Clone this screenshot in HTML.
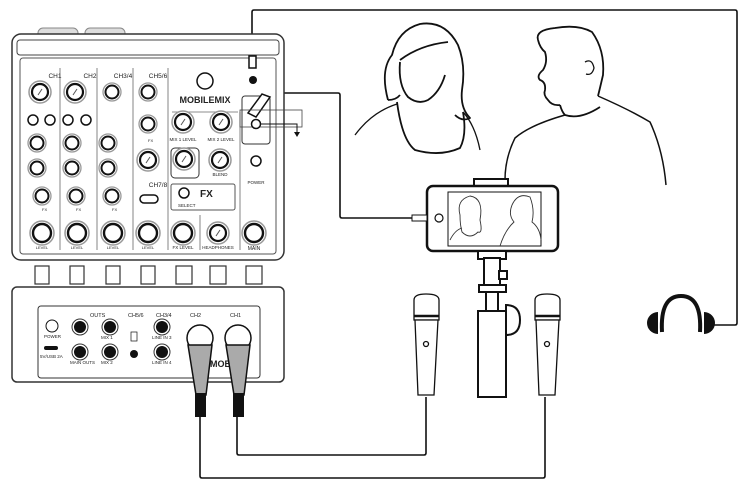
<!DOCTYPE html>
<html><head><meta charset="utf-8"><style>
html,body{margin:0;padding:0;background:#fff;width:750px;height:487px;overflow:hidden}
svg{display:block}
text{font-family:"Liberation Sans",sans-serif;fill:#222}
</style></head><body>
<svg width="750" height="487" viewBox="0 0 750 487" xmlns="http://www.w3.org/2000/svg">
<defs>
<g id="k"><circle r="11" fill="#fff" stroke="#999" stroke-width="1.5"/><circle r="8" fill="#fff" stroke="#111" stroke-width="2.2"/><line x1="-2" y1="3" x2="2" y2="-3" stroke="#555" stroke-width="1"/></g>
<g id="ks"><circle r="9" fill="#fff" stroke="#999" stroke-width="1.3"/><circle r="6.5" fill="#fff" stroke="#111" stroke-width="2"/></g>
<g id="kb"><circle r="12" fill="#fff" stroke="#999" stroke-width="1.5"/><circle r="9" fill="#fff" stroke="#111" stroke-width="2.4"/></g>
<g id="j"><circle r="8" fill="#fff" stroke="#333" stroke-width="1"/><circle r="6" fill="#111"/></g>
</defs>
<g fill="none" stroke="#111" stroke-width="1.6">
<path d="M252 62 V12 Q252 10 254 10 H735 Q737 10 737 12 V323 Q737 325 735 325 H712"/>
<path d="M275 93 H338 Q340 93 340 95 V216 Q340 218 342 218 H414"/>
<path d="M200 415 V476 Q200 478 202 478 H543 Q545 478 545 476 V397"/>
<path d="M237 415 V453 Q237 455 239 455 H424 Q426 455 426 453 V397"/>
</g>
<!-- mixer top -->
<rect x="38" y="28" width="40" height="10" rx="5" fill="#ddd" stroke="#888"/>
<rect x="85" y="28" width="40" height="10" rx="5" fill="#ddd" stroke="#888"/>
<rect x="12" y="34" width="272" height="226" rx="9" fill="#fff" stroke="#333" stroke-width="1.5"/>
<rect x="17" y="40" width="262" height="15" rx="3" fill="#fff" stroke="#444"/>
<rect x="20" y="58" width="256" height="196" rx="3" fill="#fff" stroke="#555"/>
<g stroke="#666" stroke-width="0.8">
<line x1="60" y1="68" x2="60" y2="250"/><line x1="97" y1="68" x2="97" y2="250"/><line x1="133" y1="68" x2="133" y2="250"/><line x1="168" y1="68" x2="168" y2="250"/>
<line x1="172" y1="112" x2="238" y2="112"/><line x1="240" y1="112" x2="240" y2="250"/><line x1="200" y1="215" x2="200" y2="250"/>
</g>
<g font-size="6.5" text-anchor="middle">
<text x="55" y="78">CH1</text><text x="90" y="78">CH2</text><text x="123" y="78">CH3/4</text><text x="158" y="78">CH5/6</text><text x="158" y="187">CH7/8</text>
</g>
<g font-size="4">
<use href="#k" x="40" y="92"/><use href="#k" x="75" y="92"/><use href="#ks" x="112" y="92"/><use href="#ks" x="148" y="92"/>
<circle cx="33" cy="120" r="5" fill="#fff" stroke="#111" stroke-width="1.5"/><circle cx="50" cy="120" r="5" fill="#fff" stroke="#111" stroke-width="1.5"/>
<circle cx="68" cy="120" r="5" fill="#fff" stroke="#111" stroke-width="1.5"/><circle cx="86" cy="120" r="5" fill="#fff" stroke="#111" stroke-width="1.5"/>
<use href="#ks" x="148" y="124"/>
<use href="#ks" x="37" y="143"/><use href="#ks" x="72" y="143"/><use href="#ks" x="108" y="143"/>
<use href="#ks" x="37" y="168"/><use href="#ks" x="72" y="168"/><use href="#ks" x="108" y="168"/>
<use href="#k" x="148" y="160"/>
<use href="#ks" x="42" y="196"/><use href="#ks" x="76" y="196"/><use href="#ks" x="112" y="196"/>
<rect x="140" y="195" width="18" height="8" rx="4" fill="#fff" stroke="#111" stroke-width="1.5"/>
<use href="#kb" x="42" y="233"/><use href="#kb" x="77" y="233"/><use href="#kb" x="113" y="233"/><use href="#kb" x="148" y="233"/>
<text x="42" y="249" text-anchor="middle">LEVEL</text><text x="77" y="249" text-anchor="middle">LEVEL</text><text x="113" y="249" text-anchor="middle">LEVEL</text><text x="148" y="249" text-anchor="middle">LEVEL</text>
<text x="42" y="211">FX</text><text x="76" y="211">FX</text><text x="112" y="211">FX</text><text x="148" y="142">FX</text>
</g>
<circle cx="205" cy="81" r="8" fill="#fff" stroke="#111" stroke-width="1.5"/>
<text x="205" y="103" font-size="9" font-weight="bold" text-anchor="middle">MOBILEMIX</text>
<use href="#k" x="183" y="122"/><use href="#k" x="221" y="122"/>
<text x="183" y="141" font-size="4.5" text-anchor="middle">MIX 1 LEVEL</text><text x="221" y="141" font-size="4.5" text-anchor="middle">MIX 2 LEVEL</text>
<rect x="171" y="148" width="28" height="30" rx="4" fill="#fff" stroke="#333"/>
<use href="#k" x="184" y="159"/><use href="#k" x="220" y="160"/>
<text x="220" y="176" font-size="4.5" text-anchor="middle">BLEND</text>
<rect x="171" y="184" width="64" height="26" rx="2" fill="#fff" stroke="#555"/>
<circle cx="184" cy="193" r="5" fill="#fff" stroke="#111" stroke-width="1.5"/>
<text x="200" y="197" font-size="10" font-weight="bold">FX</text>
<text x="178" y="207" font-size="4.5">SELECT</text>
<use href="#kb" x="183" y="233"/><use href="#k" x="218" y="233"/><use href="#kb" x="254" y="233"/>
<text x="183" y="249" font-size="4.5" text-anchor="middle">FX LEVEL</text><text x="218" y="249" font-size="4.5" text-anchor="middle">HEADPHONES</text><text x="254" y="250" font-size="5" text-anchor="middle">MAIN</text>
<circle cx="256" cy="161" r="5" fill="#fff" stroke="#111" stroke-width="1.5"/>
<text x="256" y="184" font-size="4.5" text-anchor="middle">POWER</text>
<rect x="249" y="56" width="7" height="12" fill="#fff" stroke="#111" stroke-width="1.5"/>
<circle cx="253" cy="80" r="4" fill="#111"/>
<rect x="242" y="96" width="28" height="48" rx="3" fill="#fff" stroke="#333"/>
<path d="M248 113 L262 94 L270 97 L256 117 Z" fill="#fff" stroke="#111" stroke-width="1.5"/>
<rect x="240" y="110" width="62" height="17" fill="none" stroke="#444" stroke-width="0.8"/>
<circle cx="256" cy="124" r="4.5" fill="#fff" stroke="#111" stroke-width="1.5"/>
<path d="M260 124 H297 V133" fill="none" stroke="#111" stroke-width="1"/><path d="M294 132 L297 137 L300 132 Z" fill="#111"/>
<g fill="#fff" stroke="#333" stroke-width="1.2">
<rect x="35" y="266" width="14" height="18"/><rect x="70" y="266" width="14" height="18"/><rect x="106" y="266" width="14" height="18"/><rect x="141" y="266" width="14" height="18"/><rect x="176" y="266" width="16" height="18"/><rect x="210" y="266" width="16" height="18"/><rect x="246" y="266" width="16" height="18"/>
</g>
<!-- back panel -->
<rect x="12" y="287" width="272" height="95" rx="5" fill="#fff" stroke="#333" stroke-width="1.5"/>
<rect x="38" y="306" width="222" height="72" rx="3" fill="#fff" stroke="#333"/>
<g font-size="4.5">
<circle cx="52" cy="326" r="6" fill="#fff" stroke="#111"/><text x="44" y="338">POWER</text>
<rect x="44" y="346" width="14" height="4" rx="2" fill="#111"/><text x="40" y="358">5V/USB 2A</text>
<text x="90" y="317" font-size="5.5">OUTS</text><text x="128" y="317" font-size="5.5">CH5/6</text><text x="156" y="317" font-size="5.5">CH3/4</text><text x="190" y="317" font-size="5.5">CH2</text><text x="230" y="317" font-size="5.5">CH1</text>
<use href="#j" x="80" y="327"/><use href="#j" x="80" y="352"/><use href="#j" x="110" y="327"/><use href="#j" x="110" y="352"/>
<use href="#j" x="162" y="327"/><use href="#j" x="162" y="352"/>
<circle cx="134" cy="354" r="4" fill="#111"/><rect x="131" y="332" width="6" height="9" fill="#fff" stroke="#111" stroke-width="0.7"/>
<text x="70" y="364">MAIN OUTS</text><text x="101" y="364">MIX 2</text><text x="101" y="339">MIX 1</text><text x="152" y="364">LINE IN 4</text><text x="152" y="339">LINE IN 3</text>
<text x="210" y="367" font-size="9" font-weight="bold">MOBIL</text>
</g>
<circle cx="200" cy="338" r="13" fill="#fff" stroke="#111" stroke-width="1.5"/><circle cx="238" cy="338" r="13" fill="#fff" stroke="#111" stroke-width="1.5"/>
<path d="M188 345 L212 345 L206 395 L196 395 Z" fill="#aaa" stroke="#111" stroke-width="1.5"/>
<path d="M226 345 L250 345 L244 395 L234 395 Z" fill="#aaa" stroke="#111" stroke-width="1.5"/>
<rect x="195" y="393" width="11" height="24" fill="#111"/><rect x="233" y="393" width="11" height="24" fill="#111"/>
<!-- people -->
<g fill="none" stroke="#111" stroke-width="1.8" stroke-linejoin="round">
<!-- woman hair -->
<path d="M388 100 Q380 70 392 55 Q398 30 420 24 Q445 20 458 45 Q466 65 462 90 Q460 108 470 118 Q462 122 455 115"/>
<path d="M388 100 Q396 100 400 95"/>
<!-- face -->
<path d="M400 62 Q398 85 408 97 Q418 105 428 100 Q440 92 445 75"/>
<path d="M400 60 Q420 45 448 42"/>
<!-- bib body -->
<path d="M397 102 Q402 140 415 150 Q440 157 460 148 Q467 135 463 112"/>
<!-- shoulders -->
<path d="M355 135 Q372 112 397 104" stroke-width="1.3"/>
<path d="M463 112 Q475 125 480 150" stroke-width="1.3"/>
<!-- man head -->
<path d="M538 40 Q535 30 555 28 Q578 24 592 32 Q605 50 603 75 Q600 88 598 96"/>
<path d="M538 40 Q540 48 545 52 Q548 62 543 70 Q536 76 540 80 Q546 82 545 90 Q543 95 548 100 Q552 106 560 105"/>
<path d="M585 62 Q592 58 594 68 Q592 76 586 74" stroke-width="1.3"/>
<path d="M560 105 Q562 112 565 115 Q580 120 600 107"/>
<path d="M598 96 Q630 110 650 122 Q663 150 666 185" stroke-width="1.5"/>
<path d="M565 115 Q530 125 515 138 Q505 158 505 180" stroke-width="1.5"/>
</g>
<!-- phone -->
<rect x="474" y="179" width="34" height="8" fill="#fff" stroke="#111" stroke-width="2"/>
<rect x="427" y="186" width="131" height="65" rx="6" fill="#fff" stroke="#111" stroke-width="2.5"/>
<rect x="448" y="192" width="93" height="54" fill="#fff" stroke="#111"/>
<circle cx="439" cy="218" r="4" fill="#fff" stroke="#111" stroke-width="1.2"/>
<rect x="412" y="215" width="15" height="6" fill="#fff" stroke="#111"/>
<g fill="none" stroke="#333" stroke-width="0.9">
<path d="M460 215 Q456 200 470 196 Q484 198 480 220 Q483 234 478 232 Q470 240 462 232 Q460 225 460 215 Z"/>
<path d="M512 205 Q518 192 530 197 Q535 210 532 222 Q540 228 541 240 M512 205 Q508 215 514 222 Q505 230 500 246"/>
<path d="M450 240 Q455 230 462 228"/>
</g>
<!-- stand -->
<g fill="#fff" stroke="#111" stroke-width="2">
<rect x="478" y="251" width="28" height="8"/><rect x="484" y="258" width="16" height="28"/><rect x="479" y="285" width="27" height="7"/>
<rect x="486" y="292" width="12" height="20"/><rect x="478" y="311" width="28" height="86"/>
<path d="M506 305 Q520 305 520 320 Q520 335 506 335 Z"/><rect x="499" y="271" width="8" height="8"/>
</g>
<!-- mics -->
<g fill="#fff" stroke="#111" stroke-width="1.3">
<path d="M414 300 Q414 294 426 294 Q439 294 439 300 V320 H414 Z"/><path d="M415 320 H438 L434 395 H418 Z"/>
<path d="M535 300 Q535 294 547 294 Q560 294 560 300 V320 H535 Z"/><path d="M536 320 H559 L555 395 H539 Z"/>
<line x1="414" y1="316" x2="439" y2="316" stroke-width="2.5"/><line x1="535" y1="316" x2="560" y2="316" stroke-width="2.5"/>
<circle cx="426" cy="344" r="2.5"/><circle cx="547" cy="344" r="2.5"/>
</g>
<!-- headphones -->
<path d="M662 332 Q660 296 681 296 Q702 296 700 332" fill="none" stroke="#111" stroke-width="4"/>
<path d="M658 312 A11 11 0 0 0 658 334 Z" fill="#111"/><path d="M704 312 A11 11 0 0 1 704 334 Z" fill="#111"/>
</svg>
</body></html>
